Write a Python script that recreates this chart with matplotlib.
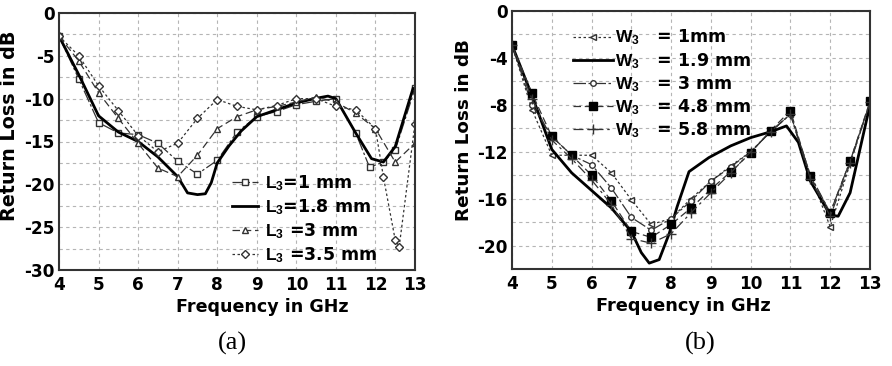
import matplotlib
matplotlib.use("Agg")
import matplotlib.pyplot as plt
import numpy as np

plt.rcParams['font.family'] = ['DejaVu Sans']
plt.rcParams['axes.unicode_minus'] = False
plt.rcParams['mathtext.fontset'] = 'custom'
plt.rcParams['mathtext.bf'] = 'Liberation Sans:bold'
plt.rcParams['mathtext.rm'] = 'Liberation Sans:bold'

# ---------------- Panel (a) data ----------------
freq_a = [4, 4.5, 5, 5.5, 6, 6.5, 7, 7.5, 8, 8.5, 9, 9.5, 10, 10.5, 11, 11.5, 11.85, 12.2, 12.5, 13]
l3_1mm = [-2.7, -7.7, -12.8, -14.0, -14.2, -15.2, -17.3, -18.8, -17.2, -13.9, -12.1, -11.5, -10.7, -10.3, -10.0, -14.0, -18.0, -17.4, -16.0, -8.8]

freq_a_solid = [4, 4.5, 5, 5.5, 6, 6.5, 7, 7.25, 7.5, 7.7, 7.85, 8, 8.3, 8.6, 9, 9.5, 10, 10.45, 10.8, 11, 11.5, 11.9, 12.2, 12.5, 12.95]
l3_18mm = [-2.7, -7.2, -12.0, -13.9, -15.0, -16.8, -19.1, -21.0, -21.2, -21.1, -19.8, -17.5, -15.5, -13.8, -12.1, -11.3, -10.5, -10.0, -9.7, -10.0, -14.0, -17.0, -17.4, -15.6, -8.8]

freq_a3 = [4, 4.5, 5, 5.5, 6, 6.5, 7, 7.5, 8, 8.5, 9, 9.5, 10, 10.5, 11, 11.5, 12, 12.5, 13]
l3_3mm = [-2.7, -5.6, -9.3, -12.3, -15.2, -18.1, -19.1, -16.6, -13.5, -12.1, -11.3, -10.9, -10.4, -9.8, -10.4, -11.7, -13.5, -17.4, -15.2]

freq_a35 = [4, 4.5, 5, 5.5, 6, 6.5, 7, 7.5, 8, 8.5, 9, 9.5, 10, 10.5, 11, 11.5, 12, 12.2, 12.5, 12.6, 13]
l3_35mm = [-2.7, -5.0, -8.5, -11.4, -14.3, -16.2, -15.2, -12.3, -10.1, -10.9, -11.3, -10.8, -10.0, -10.0, -10.9, -11.3, -13.5, -19.1, -26.5, -27.3, -12.9]

# ---------------- Panel (b) data ----------------
freq_b = [4, 4.5, 5, 5.5, 6, 6.5, 7, 7.5, 8, 8.5, 9, 9.5, 10, 10.5, 11, 11.5, 12, 12.5, 13]
w3_1mm = [-2.9, -8.4, -12.3, -12.3, -12.3, -13.8, -16.1, -18.2, -17.7, -16.0, -14.5, -13.2, -12.0, -10.3, -8.8, -14.0, -18.4, -13.0, -7.8]
w3_3mm = [-2.9, -8.0, -10.7, -12.3, -13.1, -15.1, -17.6, -18.7, -17.7, -16.2, -14.5, -13.3, -12.0, -10.3, -8.8, -14.0, -17.2, -12.8, -7.8]
w3_48mm = [-2.9, -7.0, -10.7, -12.3, -14.0, -16.2, -18.8, -19.3, -18.2, -16.8, -15.2, -13.7, -12.1, -10.2, -8.5, -14.1, -17.2, -12.8, -7.7]
w3_58mm = [-2.9, -7.5, -11.0, -12.6, -14.4, -16.5, -19.4, -19.8, -19.0, -17.2, -15.5, -13.8, -12.0, -10.3, -8.8, -14.3, -17.5, -13.0, -7.8]

freq_b_solid = [4, 4.5, 5, 5.5, 6, 6.5, 7, 7.25, 7.45, 7.7, 7.95, 8.15, 8.45, 8.95, 9.5, 10, 10.5, 10.9, 11.2, 11.5, 12, 12.2, 12.5, 13]
w3_19mm = [-2.9, -7.2, -11.8, -13.8, -15.3, -16.8, -18.8, -20.6, -21.5, -21.2, -19.0, -16.7, -13.7, -12.5, -11.5, -10.8, -10.3, -9.8, -11.2, -14.5, -17.4, -17.5, -15.5, -8.0]

xticks = [4, 5, 6, 7, 8, 9, 10, 11, 12, 13]
yticks_a = [0, -5, -10, -15, -20, -25, -30]
yticks_b = [0, -4, -8, -12, -16, -20]

fig = plt.figure(figsize=(8.92, 3.66), dpi=100)
ax1 = fig.add_axes([59 / 892, 1 - 270 / 366, 356 / 892, 257 / 366])
ax2 = fig.add_axes([512 / 892, 1 - 269 / 366, 358 / 892, 258 / 366])

tick_fs = 12.2
leg_fs = 12.5


def style(ax, yticks, ylim, yminor, xlab_fs, ylab_fs):
    ax.set_xlim(4, 13)
    ax.set_ylim(*ylim)
    ax.set_xticks(xticks)
    ax.set_yticks(yticks)
    ax.set_yticks(yminor, minor=True)
    ax.grid(True, which='both', linestyle=(0, (3, 3)), color='#b5b5b5', linewidth=0.8)
    ax.tick_params(which='both', length=0)
    ax.tick_params(axis='x', pad=4)
    ax.tick_params(axis='y', pad=3)
    for lbl in ax.get_xticklabels() + ax.get_yticklabels():
        lbl.set_fontweight('bold')
        lbl.set_fontsize(tick_fs)
    for s in ax.spines.values():
        s.set_linewidth(1.5)
        s.set_color('#333333')
    ax.set_xlabel('Frequency in GHz', fontweight='bold', fontsize=xlab_fs)
    ax.set_ylabel('Return Loss in dB', fontweight='bold', fontsize=ylab_fs)
    ax.set_axisbelow(True)


lw_thin = 0.9
# ---- (a) ----
ax1.plot(freq_a, l3_1mm, color='#333333', lw=lw_thin, linestyle=(0, (10, 2, 2, 2)), marker='s', ms=4, mfc='white', mec='#333333', label=r'$\mathbf{L_3}$=1 mm')
ax1.plot(freq_a_solid, l3_18mm, color='black', lw=2.0, label=r'$\mathbf{L_3}$=1.8 mm')
ax1.plot(freq_a3, l3_3mm, color='#333333', lw=lw_thin, linestyle=(0, (6, 3)), marker='^', ms=4.5, mfc='white', mec='#333333', label=r'$\mathbf{L_3}$ =3 mm')
ax1.plot(freq_a35, l3_35mm, color='#333333', lw=lw_thin, linestyle=(0, (2, 2)), marker='D', ms=4, mfc='white', mec='#333333', label=r'$\mathbf{L_3}$ =3.5 mm')
style(ax1, yticks_a, (-30, 0), np.arange(-30, 0.1, 2.5), 12.6, 13.8)
ax1.xaxis.set_label_coords(0.572, -0.11)
ax1.yaxis.set_label_coords(-0.112, 0.56)
ax1.legend(loc='upper left', bbox_to_anchor=(0.466, 0.405), frameon=False, prop={'weight': 'bold', 'size': leg_fs},
           handlelength=1.5, handletextpad=0.4, labelspacing=0.26, borderaxespad=0.0)

# ---- (b) ----
ax2.plot(freq_b, w3_1mm, color='#333333', lw=lw_thin, linestyle=(0, (2, 2)), marker='<', ms=4.5, mfc='white', mec='#333333', label=r'$\mathbf{W_3}$   = 1mm')
ax2.plot(freq_b_solid, w3_19mm, color='black', lw=2.0, label=r'$\mathbf{W_3}$   = 1.9 mm')
ax2.plot(freq_b, w3_3mm, color='#333333', lw=lw_thin, linestyle=(0, (10, 2, 2, 2)), marker='o', ms=4, mfc='white', mec='#333333', label=r'$\mathbf{W_3}$   = 3 mm')
ax2.plot(freq_b, w3_48mm, color='#333333', lw=lw_thin, linestyle=(0, (6, 3)), marker='s', ms=5.5, mfc='black', mec='black', label=r'$\mathbf{W_3}$   = 4.8 mm')
ax2.plot(freq_b, w3_58mm, color='#333333', lw=lw_thin, linestyle=(0, (8, 3, 2, 3)), marker='+', ms=6.5, mec='#333333', label=r'$\mathbf{W_3}$   = 5.8 mm')
style(ax2, yticks_b, (-22, 0), np.arange(-22, 0.1, 2), 12.8, 13.2)
ax2.xaxis.set_label_coords(0.48, -0.11)
ax2.yaxis.set_label_coords(-0.108, 0.54)
ax2.legend(loc='upper left', bbox_to_anchor=(0.151, 0.962), frameon=False, prop={'weight': 'bold', 'size': leg_fs},
           handlelength=2.3, handletextpad=0.1, labelspacing=0.2, borderaxespad=0.0)

fig.text(232 / 892, 1 - 343 / 366, '(a)', family='Liberation Serif', fontsize=19, ha='center', va='center')
fig.text(700 / 892, 1 - 343 / 366, '(b)', family='Liberation Serif', fontsize=19, ha='center', va='center')

fig.savefig('out.png', dpi=100)
